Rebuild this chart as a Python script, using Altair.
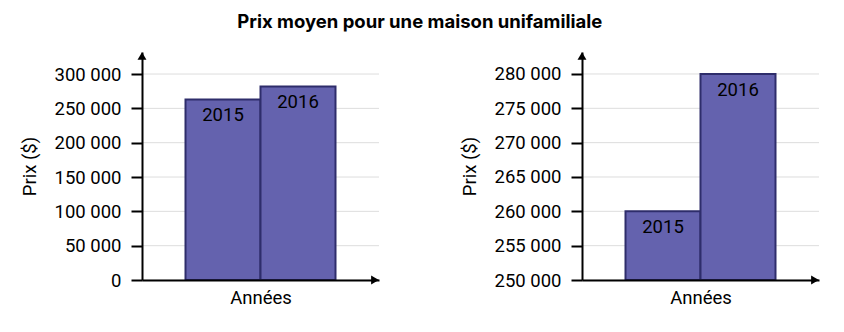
import altair as alt
import pandas as pd

years = ["2015", "2016"]
left_prices = [263000, 282000]
right_prices = [260000, 280000]
left_ticks = [0, 50000, 100000, 150000, 200000, 250000, 300000]
right_ticks = [250000, 255000, 260000, 265000, 270000, 275000, 280000]
chart_title = "Prix moyen pour une maison unifamiliale"
x_title = "Années"
y_title = "Prix ($)"

W, H = 237, 228
FILL = "#6462ae"
STROKE = "#2e2d6b"
label_expr = "replace(format(datum.value, ',d'), ',', ' ')"


def panel(prices, ticks, domain):
    df = pd.DataFrame({"annee": years, "prix": prices, "base": [ticks[0]] * len(years)})
    grid_df = pd.DataFrame({"tick": ticks})
    yaxis = alt.Axis(
        title=y_title, values=ticks, labelExpr=label_expr, grid=False,
        tickColor="black", tickSize=11, tickWidth=2,
        domainColor="black", domainWidth=2,
        labelFontSize=18.5, labelPadding=10, labelColor="black",
        titleFontSize=18.5, titleFontWeight="normal", titlePadding=15,
        titleColor="black", zindex=1,
    )
    yscale = alt.Scale(domain=domain, zero=False, nice=False)
    xaxis = alt.Axis(
        title=x_title, labels=False, ticks=False, grid=False,
        domainColor="black", domainWidth=2,
        titleFontSize=18.5, titleFontWeight="normal", titlePadding=8,
        titleColor="black", zindex=1,
    )
    xscale = alt.Scale(paddingInner=0, paddingOuter=0.58)

    grid = alt.Chart(grid_df).mark_rule(color="#dddddd", strokeWidth=1).encode(
        y=alt.Y("tick:Q", scale=yscale, axis=yaxis)
    )
    bars = alt.Chart(df).mark_bar(fill=FILL, stroke=STROKE, strokeWidth=2).encode(
        x=alt.X("annee:N", scale=xscale, axis=xaxis),
        y=alt.Y("prix:Q", scale=yscale, axis=yaxis),
        y2="base:Q",
    )
    text = alt.Chart(df).mark_text(
        baseline="middle", dy=16, fontSize=18.5, color="black"
    ).encode(
        x=alt.X("annee:N", scale=xscale, axis=xaxis),
        y=alt.Y("prix:Q", scale=yscale, axis=yaxis),
        text="annee:N",
    )
    arrow_df = pd.DataFrame({"a": [0]})
    up = alt.Chart(arrow_df).mark_point(
        shape="triangle-up", filled=True, fill="black", size=80, opacity=1
    ).encode(x=alt.value(0), y=alt.value(4))
    right = alt.Chart(arrow_df).mark_point(
        shape="triangle-right", filled=True, fill="black", size=80, opacity=1
    ).encode(x=alt.value(W - 4), y=alt.value(H))
    return alt.layer(grid, bars, text, up, right).properties(width=W, height=H)


left = panel(left_prices, left_ticks, [0, 332100])
rightp = panel(right_prices, right_ticks, [250000, 283200])

chart = alt.hconcat(left, rightp, spacing=80).properties(
    title=alt.TitleParams(chart_title, anchor="middle", font="Inter",
                          fontSize=18.5, fontWeight="bold", color="black", offset=21),
    padding={"left": 20, "top": 12, "right": 5, "bottom": 5},
).configure(font="Roboto").configure_view(stroke=None)

chart.save("out.html", embed_options={"renderer": "svg", "actions": False})
